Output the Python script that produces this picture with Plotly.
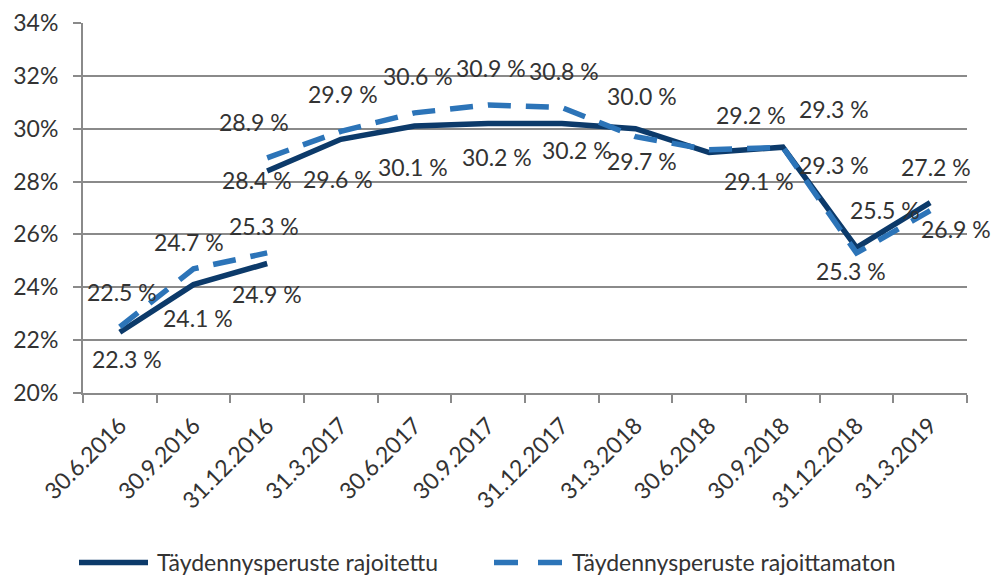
import plotly.graph_objects as go

# ---------------- data ----------------
categories = ["30.6.2016", "30.9.2016", "31.12.2016", "31.3.2017", "30.6.2017",
              "30.9.2017", "31.12.2017", "31.3.2018", "30.6.2018", "30.9.2018",
              "31.12.2018", "31.3.2019"]

# series break at 31.12.2016 (old method up to 31.12.2016, new method from 31.12.2016)
rajoitettu_old = [22.3, 24.1, 24.9]
rajoitettu_new = [28.4, 29.6, 30.1, 30.2, 30.2, 30.0, 29.1, 29.3, 25.5, 27.2]
rajoittamaton_old = [22.5, 24.7, 25.3]
rajoittamaton_new = [28.9, 29.9, 30.6, 30.9, 30.8, 29.7, 29.2, 29.3, 25.3, 26.9]

series_names = ["Täydennysperuste rajoitettu", "Täydennysperuste rajoittamaton"]
y_ticks = [20, 22, 24, 26, 28, 30, 32, 34]

# ---------------- styling ----------------
FONT = "Lato, 'Open Sans', sans-serif"
TXT = "#333333"
GRID = "#8a8a8a"
C_SOLID = "#0c3a6a"
C_DASH = "#2c74b8"

# label offsets (dx right, dy down) in pixels, per point
off_r_old = [(7, 29), (4.5, 35), (-0.5, 32)]
off_r_new = [(-10, 11), (-3, 42), (-2, 43), (9, 36), (15, 29), (6, -31),
             (50, 30), (51, 20), (28.5, -36), (6, -33.5)]
off_m_old = [(2, -32.5), (-4.5, -24.5), (-3, -25)]
off_m_new = [(-13, -34), (2, -35), (3, -35), (3, -35), (2, -35), (6, 26),
             (41.5, -33), (51, -36), (-5.5, 20), (26, 20.5)]

n_old = len(rajoitettu_old)
x_old = categories[:n_old]
x_new = categories[n_old - 1:]

fig = go.Figure()
fig.add_trace(go.Scatter(
    x=x_old + [None] + x_new, y=rajoitettu_old + [None] + rajoitettu_new,
    mode="lines", name=series_names[0], connectgaps=False,
    line=dict(color=C_SOLID, width=5.5), showlegend=False))
fig.add_trace(go.Scatter(
    x=x_old + [None] + x_new, y=rajoittamaton_old + [None] + rajoittamaton_new,
    mode="lines", name=series_names[1], connectgaps=False,
    line=dict(color=C_DASH, width=5.5, dash="23px,15px"), showlegend=False))

annotations = []
def add_labels(xs, ys, offs):
    for x, y, (dx, dy) in zip(xs, ys, offs):
        annotations.append(dict(
            x=x, y=y, xref="x", yref="y", text=f"{y:.1f} %", showarrow=False,
            xshift=dx, yshift=-dy + 2, font=dict(family=FONT, size=23, color=TXT)))

add_labels(x_old, rajoitettu_old, off_r_old)
add_labels(x_new, rajoitettu_new, off_r_new)
add_labels(x_old, rajoittamaton_old, off_m_old)
add_labels(x_new, rajoittamaton_new, off_m_new)

# page body has an 8px margin: figure drawn at (8, 8)
OFF = 8
W, H = 1008 - OFF, 577 - OFF
L, T, R, B = 83 - OFF, 22.7 - OFF, 41, 184.4
PW, PH = W - L - R, H - T - B
def px(x):
    return (x - OFF - L) / PW
def py(y):
    return (H - B - (y - OFF)) / PH

leg_y = 562
shapes = [
    dict(type="line", xref="paper", yref="paper", x0=px(79), x1=px(148), y0=py(leg_y), y1=py(leg_y),
         line=dict(color=C_SOLID, width=5.5)),
    dict(type="line", xref="paper", yref="paper", x0=px(494), x1=px(562), y0=py(leg_y), y1=py(leg_y),
         line=dict(color=C_DASH, width=5.5, dash="24px,20px")),
]
annotations.append(dict(x=px(155), y=py(leg_y), xref="paper", yref="paper", text=series_names[0],
                        xanchor="left", yanchor="middle", showarrow=False,
                        font=dict(family=FONT, size=23, color=TXT)))
annotations.append(dict(x=px(570), y=py(leg_y), xref="paper", yref="paper", text=series_names[1],
                        xanchor="left", yanchor="middle", showarrow=False,
                        font=dict(family=FONT, size=23, color=TXT)))

fig.update_layout(
    width=W, height=H,
    margin=dict(l=L, r=R, t=T, b=B, autoexpand=False),
    paper_bgcolor="white", plot_bgcolor="white",
    font=dict(family=FONT, size=23, color=TXT),
    showlegend=False,
    annotations=annotations,
    shapes=shapes,
    xaxis=dict(type="category", categoryorder="array", categoryarray=categories,
               tickmode="array", tickvals=categories, ticktext=categories,
               tickson="boundaries", ticks="outside", ticklen=8, tickcolor=GRID, tickwidth=1.5,
               ticklabelstandoff=8,
               showline=True, linecolor=GRID, linewidth=2, showgrid=False,
               tickangle=-45, tickfont=dict(family=FONT, size=23, color=TXT),
               range=[-0.5, len(categories) - 0.5], zeroline=False),
    yaxis=dict(range=[y_ticks[0], y_ticks[-1]], tickmode="array", tickvals=y_ticks,
               ticktext=[f"{v}%" for v in y_ticks],
               ticks="outside", ticklen=8, tickcolor=GRID, tickwidth=1.5,
               ticklabelstandoff=10,
               showline=True, linecolor=GRID, linewidth=2,
               showgrid=True, gridcolor=GRID, gridwidth=2, zeroline=False,
               tickfont=dict(family=FONT, size=23, color=TXT)),
)

fig.write_html("out.html")
